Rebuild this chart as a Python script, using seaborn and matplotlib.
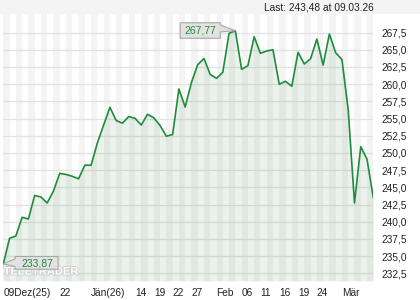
import matplotlib
matplotlib.use("Agg")
import matplotlib.pyplot as plt
import matplotlib.patheffects as pe
from matplotlib.patches import Polygon, Rectangle
import seaborn as sns
import pandas as pd
import numpy as np

# ---- data ----
prices = [233.87, 237.60, 237.93, 240.65, 240.40, 243.82, 243.60, 242.73, 244.47, 247.04,
          246.87, 246.61, 246.24, 248.22, 248.22, 251.45, 254.06, 256.64, 254.72, 254.33,
          255.30, 255.04, 254.06, 255.62, 255.11, 253.99, 252.44, 252.68, 259.30, 256.68,
          260.24, 262.83, 263.73, 261.40, 260.85, 261.72, 267.39, 267.77, 262.16, 262.68,
          266.90, 264.49, 264.82, 265.01, 259.99, 260.42, 259.69, 264.63, 262.93, 263.70,
          266.56, 262.78, 267.29, 264.57, 263.58, 256.24, 242.73, 250.91, 249.08, 243.48]
tick_pos = [0, 9, 14, 21, 24, 27, 30, 34, 38, 41, 44, 47, 50, 54]
tick_labels = ["09Dez(25)", "22", "Jän(26)", "14", "19", "22", "27",
               "Feb", "06", "11", "16", "19", "24", "Mär"]
y_ticks = [232.5, 235.0, 237.5, 240.0, 242.5, 245.0, 247.5, 250.0,
           252.5, 255.0, 257.5, 260.0, 262.5, 265.0, 267.5]
high_label = "267,77"
low_label = "233,87"
title_text = "Last: 243,48 at 09.03.26"

df = pd.DataFrame({"i": np.arange(len(prices)), "price": prices})

sns.set_style("white")
plt.rcParams['font.family'] = ['Liberation Sans', 'DejaVu Sans']

W, H = 420, 300
fig = plt.figure(figsize=(4.2, 3.0), dpi=100)
fig.patch.set_facecolor("white")
fig.patches.append(Rectangle((0, 1 - 14 / H), 1, 14 / H, transform=fig.transFigure,
                             facecolor="#f4f4f4", edgecolor="none", zorder=0))

ax = fig.add_axes([3.3 / W, 19 / H, 370 / W, 267 / H])
n = len(prices)
ax.set_xlim(0, n - 1)
ax.set_ylim(231.39, 270.2)
ax.set_facecolor("white")

# vertical stripes
for i in range(0, n - 1, 2):
    ax.axvspan(i, i + 1, color="#f4f4f4", lw=0, zorder=0)
# horizontal grid
for v in y_ticks:
    ax.axhline(v, color="#e2e2e2", lw=0.9, zorder=1)

ax.fill_between(df["i"], df["price"], 231.39, color="#3d7a3d", alpha=0.10, lw=0, zorder=2)
sns.lineplot(data=df, x="i", y="price", ax=ax, color="#1e8c3c", lw=1.2, zorder=4)

# callouts
def callout(xs, ys, text, tx, ty):
    ax.add_patch(Polygon(list(zip(xs, ys)), closed=True, facecolor="#e2e2e2",
                         edgecolor="#a8a8a8", lw=0.8, zorder=6))
    ax.text(tx, ty, text, color="#1e8c3c", fontsize=7.5, ha="center", va="center", zorder=7)

callout([28.2, 28.2, 34.6, 34.6, 37.0, 34.6, 34.6],
        [266.67, 268.93, 268.93, 268.6, 267.77, 267.6, 266.67],
        high_label, 31.4, 267.8)

ax.text(6.0, 232.75, "TELETRADER", fontsize=8, fontweight="bold", color="white",
        ha="center", va="center", zorder=5,
        path_effects=[pe.withStroke(linewidth=1.2, foreground="#cccccc")])

callout([0.0, 1.87, 1.87, 8.73, 8.73, 1.87, 1.87],
        [233.87, 234.6, 234.95, 234.95, 233.1, 233.1, 233.5],
        low_label, 5.5, 233.95)

ax.set_xlabel("")
ax.set_ylabel("")
ax.set_xticks(range(n))
lbls = [""] * n
for p, l in zip(tick_pos, tick_labels):
    lbls[p] = l
ax.set_xticklabels(lbls)
for t in ax.get_xticklabels():
    t.set_ha("left")
ax.tick_params(axis="x", length=3, width=0.6, color="#c8c8c8", pad=2,
               labelsize=7.3, labelcolor="#222222")

ax.yaxis.tick_right()
ax.set_yticks(y_ticks)
ax.set_yticklabels([f"{v:.1f}".replace(".", ",") for v in y_ticks])
ax.tick_params(axis="y", length=0, pad=5.5, labelsize=7.3, labelcolor="#222222")

for s in ax.spines.values():
    s.set_visible(False)

fig.text(374 / W, 1 - 7.5 / H, title_text, ha="right", va="center",
         fontsize=7.3, color="#222222")

fig.savefig("out.png", dpi=100, facecolor=fig.get_facecolor())
